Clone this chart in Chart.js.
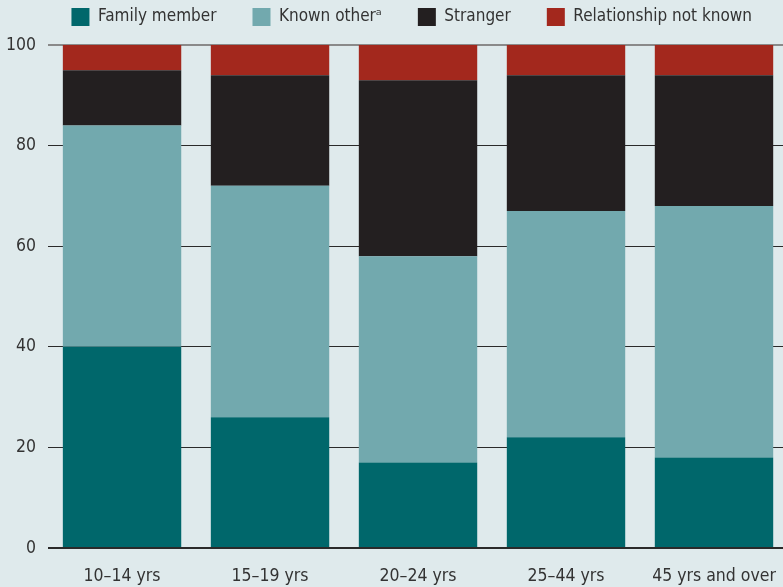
<!DOCTYPE html>
<html><head><meta charset="utf-8">
<script src="https://cdn.jsdelivr.net/npm/chart.js@4"></script>
<style>
html,body{margin:0;padding:0;background:#dfeaec;overflow:hidden;width:783px;height:587px;}
#wrap{width:788px;height:587px;position:relative;}
</style></head><body>
<div id="wrap"><canvas id="c"></canvas></div>
<script>
const categories = ["10–14 yrs","15–19 yrs","20–24 yrs","25–44 yrs","45 yrs and over"];
const familyMember = [40,26,17,22,18];
const knownOther = [44,46,41,45,50];
const stranger = [11,22,35,27,26];
const notKnown = [5,6,7,6,6];
const yTicks = [0,20,40,60,80,100];
const seriesNames = ["Family member","Known other\u1D43","Stranger","Relationship not known"];
const colors = ["#00676b","#72a9ae","#231f20","#a3281d"];
const FONT = "'Liberation Sans Narrow','DejaVu Sans Condensed',sans-serif";

const chart = new Chart(document.getElementById('c'), {
  type:'bar',
  data:{labels:categories, datasets:[
    {label:seriesNames[0], data:familyMember, backgroundColor:colors[0]},
    {label:seriesNames[1], data:knownOther, backgroundColor:colors[1]},
    {label:seriesNames[2], data:stranger, backgroundColor:colors[2]},
    {label:seriesNames[3], data:notKnown, backgroundColor:colors[3]}
  ].map(d=>Object.assign(d,{barPercentage:0.8,categoryPercentage:1,borderWidth:0}))},
  options:{
    responsive:true, maintainAspectRatio:false, animation:false,
    layout:{padding:{left:-6,right:0,top:-28,bottom:-10}},
    plugins:{
      legend:{position:'top', align:'end',
        labels:{boxWidth:18, boxHeight:18, padding:36, color:'#333', font:{family:FONT,size:17}}},
      tooltip:{enabled:false}
    },
    scales:{
      x:{stacked:true, grid:{display:false}, border:{display:false},
         ticks:{color:'#333', font:{family:FONT,size:17.5}, padding:10}},
      y:{stacked:true, min:0, max:100,
         afterBuildTicks:(s)=>{s.ticks=yTicks.map(v=>({value:v}));},
         border:{display:false},
         grid:{drawTicks:false,
           color:(c)=>c.tick.value===100?'#8a8a8a':'#2a2a2a',
           lineWidth:(c)=>c.tick.value===0||c.tick.value===100?2:1},
         ticks:{color:'#333', font:{family:FONT,size:17.5}, padding:12}}
    }
  }
});
const origFit = chart.legend.fit;
chart.legend.fit = function(){ origFit.call(this); this.height = 73; };
chart.update();
</script></body></html>
